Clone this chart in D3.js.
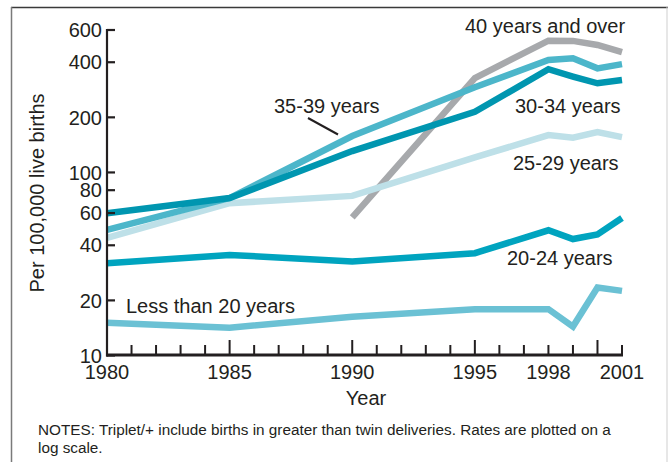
<!DOCTYPE html>
<html lang="en">
<head>
  <meta charset="UTF-8">
  <title>Triplet+ birth rates by age of mother</title>
  <script src="https://cdn.jsdelivr.net/npm/d3@7"></script>
  <style>
    body { margin: 0; background: #fff; }
    text { font-family: "Liberation Sans", Arial, Helvetica, sans-serif; fill: #231f20; }
  </style>
</head>
<body>
  <script>
    // values (per 100,000 live births)
    const years = [1980, 1985, 1990, 1995, 1998, 1999, 2000, 2001];
    const under20 = [15.0, 14.1, 16.2, 17.8, 17.8, 14.3, 23.4, 22.4];
    const age2024 = [31.7, 35.2, 32.4, 36.0, 48.0, 43.0, 45.5, 56.0];
    const age2529 = [43.7, 67.5, 74.0, 120, 159, 154, 165, 155];
    const age3034 = [59.5, 72.0, 130, 213, 364, 332, 305, 318];
    const age3539 = [48.2, 72.0, 157, 290, 409, 418, 368, 388];
    const age40 = [null, null, 56.5, 326, 521, 520, 494, 451];

    const yTicks = [10, 20, 40, 60, 80, 100, 200, 400, 600];
    const xLabels = [1980, 1985, 1990, 1995, 1998, 2001];
    const xMajor = [1980, 1985, 1990, 1995, 2000];

    const w = 668, h = 462;
    const mLeft = 107, mRight = 622, mTop = 29, mBottom = 355;

    const x = d3.scaleLinear().domain([1980, 2001]).range([mLeft, mRight]);
    const y = d3.scaleLog().domain([10, 600]).range([mBottom, mTop + 0.5]);

    const svg = d3.select("body").append("svg")
      .attr("width", w).attr("height", h);

    // frame
    svg.append("line").attr("x1", 11).attr("x2", 668).attr("y1", 7.5).attr("y2", 7.5)
      .attr("stroke", "#3a3a3a").attr("stroke-width", 1.5);
    svg.append("line").attr("x1", 11.5).attr("x2", 11.5).attr("y1", 7).attr("y2", h)
      .attr("stroke", "#7a7a7a").attr("stroke-width", 1.5);
    svg.append("line").attr("x1", 667).attr("x2", 667).attr("y1", 7).attr("y2", h)
      .attr("stroke", "#cfcfcf").attr("stroke-width", 1);

    const series = [
      { name: "40 years and over", values: age40, color: "#a7a9ac" },
      { name: "25-29 years", values: age2529, color: "#bee0e8" },
      { name: "35-39 years", values: age3539, color: "#4cb6ca" },
      { name: "30-34 years", values: age3034, color: "#0096b0" },
      { name: "20-24 years", values: age2024, color: "#00a4bf" },
      { name: "Less than 20 years", values: under20, color: "#6bc1d4" }
    ];

    const line = d3.line()
      .defined(d => d.v != null)
      .x(d => x(d.year))
      .y(d => y(d.v));

    svg.selectAll("path.series")
      .data(series)
      .enter()
      .append("path")
      .attr("class", "series")
      .attr("fill", "none")
      .attr("stroke", d => d.color)
      .attr("stroke-width", 6.5)
      .attr("stroke-linejoin", "miter")
      .attr("d", d => line(years.map((yr, i) => ({ year: yr, v: d.values[i] }))));

    // y axis
    const yAxis = d3.axisLeft(y).tickValues(yTicks).tickFormat(d3.format("d"))
      .tickSizeInner(-8).tickSizeOuter(0).tickPadding(5);
    const gy = svg.append("g").attr("transform", "translate(" + mLeft + ",0)").call(yAxis);
    gy.select(".domain").attr("d", "M0," + mTop + "V" + (mBottom + 1.5))
      .attr("stroke", "#231f20").attr("stroke-width", 2.2);
    gy.selectAll(".tick line").attr("stroke", "#231f20").attr("stroke-width", 2.2);
    gy.selectAll(".tick text").attr("font-size", 20).attr("dy", "0.36em")
      .attr("font-family", null);

    // x axis: yearly ticks pointing up
    const allYears = d3.range(1980, 2002);
    const gx = svg.append("g").attr("transform", "translate(0," + mBottom + ")");
    gx.append("line").attr("x1", mLeft - 1).attr("x2", mRight + 1).attr("y1", 0).attr("y2", 0)
      .attr("stroke", "#231f20").attr("stroke-width", 3.2);
    gx.selectAll("line.tk")
      .data(allYears)
      .enter()
      .append("line")
      .attr("class", "tk")
      .attr("x1", d => x(d)).attr("x2", d => x(d))
      .attr("y1", 0).attr("y2", d => xMajor.includes(d) ? -15 : -10)
      .attr("stroke", "#231f20").attr("stroke-width", 2);
    gx.selectAll("text")
      .data(xLabels)
      .enter()
      .append("text")
      .attr("x", d => x(d))
      .attr("y", 24)
      .attr("text-anchor", "middle")
      .attr("font-size", 20)
      .text(d => d);

    // axis titles
    svg.append("text")
      .attr("transform", "translate(44,193) rotate(-90)")
      .attr("text-anchor", "middle")
      .attr("font-size", 20)
      .text("Per 100,000 live births");
    svg.append("text")
      .attr("x", 366).attr("y", 405)
      .attr("text-anchor", "middle")
      .attr("font-size", 20)
      .text("Year");

    // series labels
    const labels = [
      { t: "40 years and over", x: 465, y: 33 },
      { t: "35-39 years", x: 274, y: 113 },
      { t: "30-34 years", x: 515, y: 113 },
      { t: "25-29 years", x: 513, y: 170 },
      { t: "20-24 years", x: 507, y: 265 },
      { t: "Less than 20 years", x: 126, y: 313 }
    ];
    svg.selectAll("text.lab")
      .data(labels)
      .enter()
      .append("text")
      .attr("class", "lab")
      .attr("x", d => d.x).attr("y", d => d.y)
      .attr("font-size", 20)
      .text(d => d.t);
    svg.append("line").attr("x1", 308).attr("y1", 118).attr("x2", 338).attr("y2", 134.5)
      .attr("stroke", "#231f20").attr("stroke-width", 2);

    // notes
    const notes = svg.append("text").attr("x", 38).attr("y", 435).attr("font-size", 15.3);
    notes.append("tspan").attr("x", 38)
      .text("NOTES: Triplet/+ include births in greater than twin deliveries. Rates are plotted on a");
    notes.append("tspan").attr("x", 38).attr("dy", 18).text("log scale.");
  </script>
</body>
</html>
